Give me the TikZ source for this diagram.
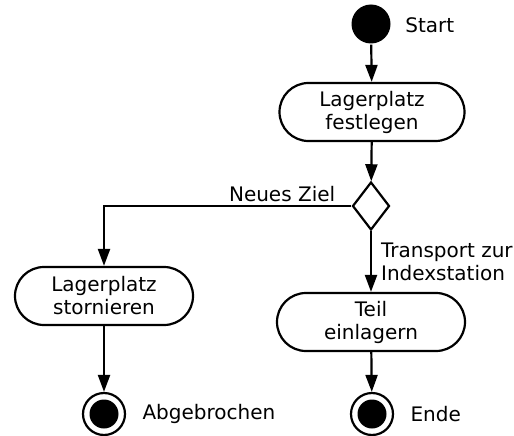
\documentclass[tikz,border=0pt]{standalone}
\usepackage{fontspec}
\setmainfont{DejaVu Sans}
\usepackage{tikz}
\usetikzlibrary{arrows.meta,positioning,shapes.geometric}

\begin{document}
\begin{tikzpicture}[x=1pt, y=-1pt,
    font=\fontsize{20}{23}\selectfont,
    every path/.style={line width=2.2pt},
    act/.style={draw, line width=2.2pt, rounded corners=29pt, minimum height=58pt, align=center, inner sep=0pt},
    choice/.style={draw, diamond, line width=2.2pt, minimum width=37pt, minimum height=48pt, inner sep=0pt},
    initial/.style={circle, fill=black, minimum size=39pt, inner sep=0pt},
    final/.style={circle, draw, line width=2.2pt, minimum size=42pt, inner sep=0pt,
      path picture={\fill (path picture bounding box.center) circle (14.5pt);}},
    flow/.style={-{Triangle[length=17pt, width=12pt]}}]
  \useasboundingbox (0,0) rectangle (514,436);
  % nodes
  \node[initial] (start) at (371,24) {};
  \node[anchor=west] (startlbl) at (401,25) {Start};
  \node[act, minimum width=185pt] (festlegen) at (372,112) {Lagerplatz\\festlegen};
  \node[choice] (ziel) at (371,206) {};
  \node[act, minimum width=178pt] (stornieren) at (104,296) {Lagerplatz\\stornieren};
  \node[act, minimum width=188pt] (einlagern) at (371,322) {Teil\\einlagern};
  \node[final] (abgebrochen) at (104,414) {};
  \node[right=12pt of abgebrochen] (abgebrochenlbl) {Abgebrochen};
  \node[final] (ende) at (372,414) {};
  \node[right=12pt of ende] (endelbl) {Ende};
  % flows
  \draw[flow] (start) -- (festlegen);
  \draw[flow] (festlegen) -- (ziel);
  \draw[flow] (ziel.west) -| node[pos=0.14, above] {Neues Ziel} (stornieren.north);
  \draw[flow] (ziel.south) -- node[midway, right, align=left, inner sep=2pt, xshift=7pt] {Transport zur\\Indexstation} (einlagern.north);
  \draw[flow] (stornieren) -- (abgebrochen);
  \draw[flow] (einlagern) -- (ende);
\end{tikzpicture}
\end{document}
